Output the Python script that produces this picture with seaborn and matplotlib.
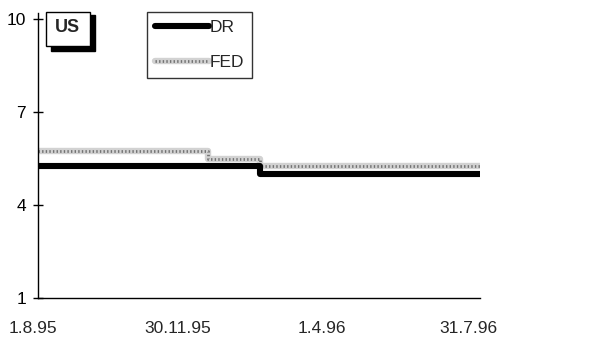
import matplotlib
matplotlib.use("Agg")
import matplotlib.pyplot as plt
from matplotlib.patches import Rectangle
from matplotlib.lines import Line2D
from matplotlib.transforms import ScaledTranslation
import matplotlib.dates as mdates
import pandas as pd
import seaborn as sns

# Rate change dates and levels (step series, %)
dr_dates = ["1995-08-01", "1996-01-31", "1996-07-31"]
dr_values = [5.25, 5.00, 5.00]
fed_dates = ["1995-08-01", "1995-12-19", "1996-01-31", "1996-07-31"]
fed_values = [5.75, 5.50, 5.25, 5.25]
x_tick_dates = ["1995-08-01", "1995-11-30", "1996-04-01", "1996-07-31"]
x_tick_labels = ["1.8.95", "30.11.95", "1.4.96", "31.7.96"]
y_ticks = [1, 4, 7, 10]

sns.set_theme(style="white")
plt.rcParams["font.family"] = ["Liberation Sans", "DejaVu Sans"]

dr = pd.DataFrame({"date": pd.to_datetime(dr_dates), "rate": dr_values})
fed = pd.DataFrame({"date": pd.to_datetime(fed_dates), "rate": fed_values})

fig = plt.figure(figsize=(6.13, 3.40), dpi=100)
ax = fig.add_axes([0.062, 0.123, 0.721, 0.839])

fed_band = dict(color="#d2d2d2", linewidth=4.6)
fed_dots = dict(color="#737373", linewidth=2.0, linestyle=(0, (0.5, 0.8)))
dr_style = dict(color="black", linewidth=4.4)

# FED: light grey band with a fine dotted texture
sns.lineplot(data=fed, x="date", y="rate", ax=ax, drawstyle="steps-post",
             legend=False, **fed_band)
sns.lineplot(data=fed, x="date", y="rate", ax=ax, drawstyle="steps-post",
             legend=False, **fed_dots)
# DR: heavy black line
sns.lineplot(data=dr, x="date", y="rate", ax=ax, drawstyle="steps-post",
             legend=False, solid_capstyle="round", **dr_style)

ax.set_xlim(pd.Timestamp("1995-08-01"), pd.Timestamp("1996-07-31"))
ax.set_ylim(1, 10.2)
ax.set_yticks(y_ticks)
ax.set_yticklabels([str(v) for v in y_ticks], fontsize=12.5)
ax.set_xticks([])
ax.set_xlabel("")
ax.set_ylabel("")

# date labels under the axis, nudged slightly left of their dates
xt = ax.get_xaxis_transform()
for d, lab, dx in zip(pd.to_datetime(x_tick_dates), x_tick_labels, [-5, -7, -12, -12]):
    ax.text(mdates.date2num(d), 0, lab, fontsize=12.5, ha="center", va="top",
            transform=xt + ScaledTranslation(dx / 100, -23 / 100, fig.dpi_scale_trans),
            clip_on=False)

for side in ("top", "right"):
    ax.spines[side].set_visible(False)
for side in ("left", "bottom"):
    ax.spines[side].set_color("black")
    ax.spines[side].set_linewidth(1.0)

ax.tick_params(axis="y", direction="inout", length=7, width=1, color="black",
               left=True, pad=5, labelcolor="black")
ax.grid(False)

# "US" label box with drop shadow
fig.patches.append(Rectangle((51 / 613, 1 - 51 / 340), 44 / 613, 36 / 340,
                             transform=fig.transFigure, facecolor="black",
                             edgecolor="black", zorder=5))
fig.patches.append(Rectangle((46 / 613, 1 - 46 / 340), 44 / 613, 34 / 340,
                             transform=fig.transFigure, facecolor="white",
                             edgecolor="black", linewidth=1.0, zorder=6))
fig.text(67 / 613, 1 - 28 / 340, "US", ha="center", va="center",
         fontsize=13, fontweight="bold", zorder=7)

# Legend
handles = [
    Line2D([], [], **dr_style),
    (Line2D([], [], **fed_band), Line2D([], [], **fed_dots)),
]
leg = ax.legend(handles, ["DR", "FED"], loc="upper left",
                bbox_to_anchor=(147 / 613, 1 - 12 / 340),
                bbox_transform=fig.transFigure, fontsize=12.5,
                frameon=True, fancybox=False, handlelength=3.1,
                handletextpad=0.05, borderpad=0.45, labelspacing=1.15,
                borderaxespad=0)
leg.get_frame().set_edgecolor("black")
leg.get_frame().set_linewidth(1.0)

fig.savefig("out.png", dpi=100)
